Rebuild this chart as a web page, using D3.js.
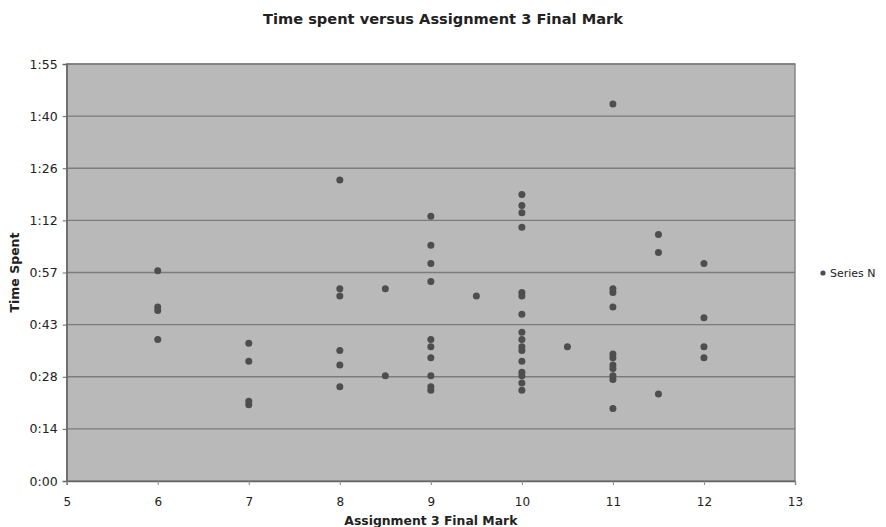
<!DOCTYPE html>
<html>
<head>
<meta charset="utf-8">
<script src="https://cdn.jsdelivr.net/npm/d3@7"></script>
<style>
  html, body { margin: 0; padding: 0; background: #fff; }
  svg { display: block; }
  text { font-family: "DejaVu Sans", Verdana, sans-serif; fill: #222; }
</style>
</head>
<body>
<svg id="chart" width="886" height="527"></svg>
<script>
// ---- data (marks, minutes spent) ----
const marks = [
  6, 6, 6, 6,
  7, 7, 7, 7,
  8, 8, 8, 8, 8, 8,
  8.5, 8.5,
  9, 9, 9, 9, 9, 9, 9, 9, 9, 9,
  9.5,
  10, 10, 10, 10, 10, 10, 10, 10, 10, 10, 10, 10, 10, 10, 10, 10,
  10.5,
  11, 11, 11, 11, 11, 11, 11, 11, 11, 11, 11,
  11.5, 11.5, 11.5,
  12, 12, 12, 12
];
const minutes = [
  58, 48, 47, 39,
  38, 33, 22, 21,
  83, 53, 51, 36, 32, 26,
  53, 29,
  73, 65, 60, 55, 39, 37, 34, 29, 26, 25,
  51,
  79, 76, 74, 70, 52, 51, 46, 41, 39, 37, 36, 33, 30, 29, 27, 25,
  37,
  104, 53, 52, 48, 35, 34, 32, 31, 29, 28, 20,
  68, 63, 24,
  60, 45, 37, 34
];
const xTicks = [5, 6, 7, 8, 9, 10, 11, 12, 13];
const yTickValues = [0, 14.375, 28.75, 43.125, 57.5, 71.875, 86.25, 100.625, 115];
const yTickLabels = ["0:00", "0:14", "0:28", "0:43", "0:57", "1:12", "1:26", "1:40", "1:55"];
const chartTitle = "Time spent versus Assignment 3 Final Mark";
const xTitle = "Assignment 3 Final Mark";
const yTitle = "Time Spent";
const seriesName = "Series N";

// ---- layout ----
const svg = d3.select("#chart");
const L = 66.7, R = 795, T = 64, B = 481;

const x = d3.scaleLinear().domain([5, 13]).range([L, R]);
const y = d3.scaleLinear().domain([0, 115]).range([B, T]);

// plot background
svg.append("rect")
  .attr("x", L).attr("y", T).attr("width", R - L).attr("height", B - T)
  .attr("fill", "#b9b9b9");

// gridlines
svg.append("g")
  .selectAll("line")
  .data(yTickValues.slice(1))
  .join("line")
  .attr("x1", L).attr("x2", R)
  .attr("y1", d => y(d)).attr("y2", d => y(d))
  .attr("stroke", "#7c7c7c").attr("stroke-width", 1.3);

// border
svg.append("rect")
  .attr("x", L).attr("y", T).attr("width", R - L).attr("height", B - T)
  .attr("fill", "none").attr("stroke", "#7a7a7a").attr("stroke-width", 1.3);

// y axis
const yAxis = d3.axisLeft(y)
  .tickValues(yTickValues)
  .tickFormat((d, i) => yTickLabels[i])
  .tickSize(4).tickPadding(5);
const gy = svg.append("g").attr("transform", `translate(${L},0)`).call(yAxis);
gy.select(".domain").attr("stroke", "#666").attr("stroke-width", 1.3);
gy.selectAll(".tick line").attr("stroke", "#666");
gy.selectAll(".tick text").attr("font-size", 12.5).attr("fill", "#333")
  .style("font-family", "'DejaVu Sans', Verdana, sans-serif");

// x axis
const xAxis = d3.axisBottom(x)
  .tickValues(xTicks)
  .tickFormat(d3.format("d"))
  .tickSize(4).tickPadding(12);
const gx = svg.append("g").attr("transform", `translate(0,${B})`).call(xAxis);
gx.select(".domain").attr("stroke", "#666").attr("stroke-width", 1.3);
gx.selectAll(".tick line").attr("stroke", "#888");
gx.selectAll(".tick text").attr("font-size", 12).attr("fill", "#333")
  .style("font-family", "'DejaVu Sans', Verdana, sans-serif");

// points
const pts = marks.map((m, i) => ({ m, t: minutes[i] }));
svg.append("g")
  .selectAll("circle")
  .data(pts)
  .join("circle")
  .attr("cx", d => x(d.m))
  .attr("cy", d => y(d.t))
  .attr("r", 3.5)
  .attr("fill", "#4e4e4e");

// titles
svg.append("text")
  .attr("x", 443).attr("y", 24)
  .attr("text-anchor", "middle")
  .attr("font-size", 14.6).attr("font-weight", "bold")
  .text(chartTitle);

svg.append("text")
  .attr("x", (L + R) / 2).attr("y", 525)
  .attr("text-anchor", "middle")
  .attr("font-size", 12.4).attr("font-weight", "bold")
  .text(xTitle);

svg.append("text")
  .attr("transform", `translate(19,${(T + B) / 2}) rotate(-90)`)
  .attr("text-anchor", "middle")
  .attr("font-size", 12.5).attr("font-weight", "bold")
  .text(yTitle);

// legend
const lg = svg.append("g").attr("transform", "translate(823,273)");
lg.append("circle").attr("cx", 0).attr("cy", 0).attr("r", 2.6).attr("fill", "#4e4e4e");
lg.append("text").attr("x", 7).attr("y", 4)
  .attr("font-size", 11).attr("fill", "#333")
  .text(seriesName);
</script>
</body>
</html>
